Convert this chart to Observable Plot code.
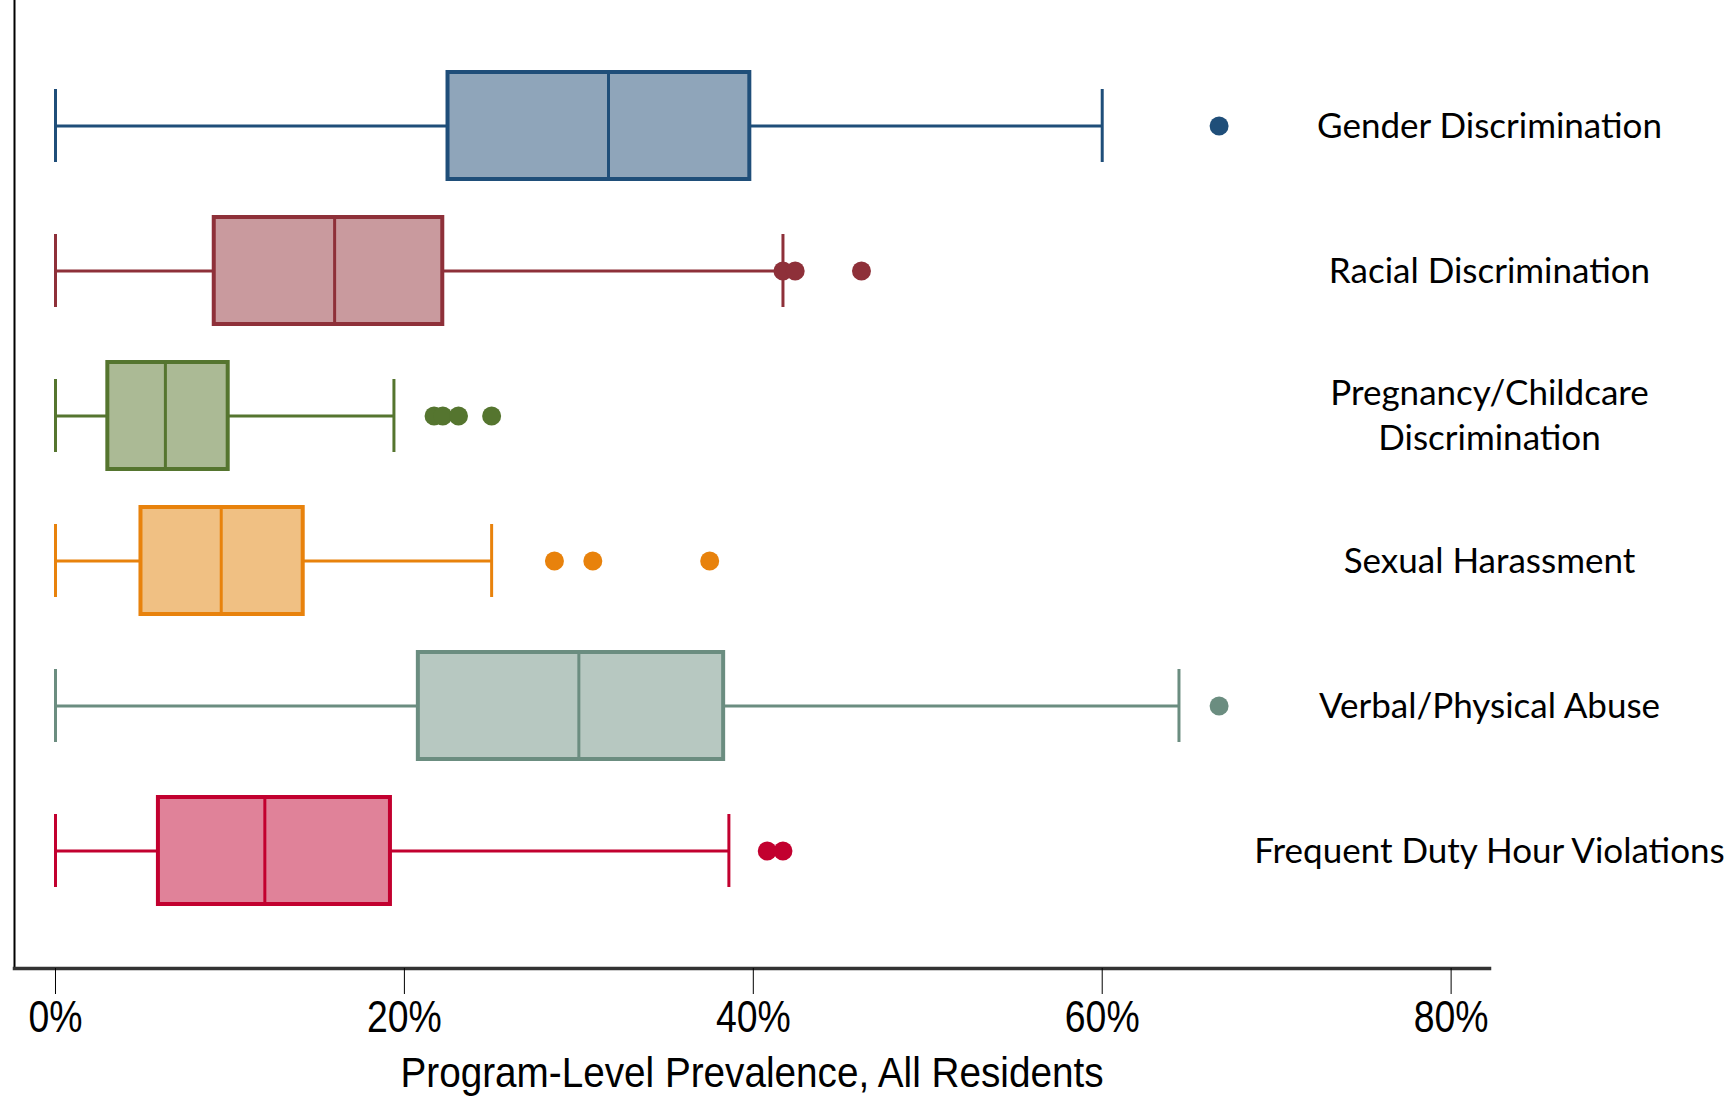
<!DOCTYPE html>
<html>
<head>
<meta charset="utf-8">
<script src="https://cdn.jsdelivr.net/npm/d3@7"></script>
<script src="https://cdn.jsdelivr.net/npm/@observablehq/plot@0.6"></script>
<style>
  html, body { margin: 0; padding: 0; background: #fff; }
  #chart svg { display: block; }
</style>
</head>
<body>
<div id="chart"></div>
<script>
const categories = [
  "Gender Discrimination",
  "Racial Discrimination",
  "Pregnancy/Childcare\nDiscrimination",
  "Sexual Harassment",
  "Verbal/Physical Abuse",
  "Frequent Duty Hour Violations"
];
const whiskerLow  = [0, 0, 0, 0, 0, 0];
const q1          = [22.5, 9.1, 3.0, 4.9, 20.8, 5.9];
const median      = [31.7, 16.0, 6.3, 9.5, 30.0, 12.0];
const q3          = [39.8, 22.2, 9.9, 14.2, 38.3, 19.2];
const whiskerHigh = [60.0, 41.7, 19.4, 25.0, 64.4, 38.6];
const outlierCategory = [0, 1, 1, 1, 2, 2, 2, 2, 3, 3, 3, 4, 5, 5];
const outlierValue    = [66.7, 41.7, 42.4, 46.2, 21.7, 22.2, 23.1, 25.0, 28.6, 30.8, 37.5, 66.7, 40.8, 41.7];
const strokeColors = ["#1f4e79", "#8e3039", "#55752f", "#e8820c", "#6b8d80", "#c2002f"];
const fillColors   = ["#8fa5ba", "#c99a9e", "#abba95", "#f0c083", "#b7c8c1", "#e08299"];
const xTicks = [0, 20, 40, 60, 80];
const xTitle = "Program-Level Prevalence, All Residents";

const boxes = categories.map((c, i) => ({
  cat: c, lo: whiskerLow[i], q1: q1[i], med: median[i], q3: q3[i], hi: whiskerHigh[i]
}));
const outliers = outlierValue.map((v, i) => ({cat: categories[outlierCategory[i]], v}));

const W = 1731, H = 1096;
const step = 145;
const yTop = 52.5;
const axisFont = "'Liberation Sans', Arial, sans-serif";

const chart = Plot.plot({
  width: W,
  height: H,
  marginLeft: 14,
  marginRight: 242,
  marginTop: 0,
  marginBottom: 128,
  style: {background: "#fff", overflow: "visible"},
  x: {domain: [-2.35, 82.2], range: [14, 1489]},
  y: {domain: categories, range: [yTop, yTop + step * categories.length], padding: 0, axis: null},
  color: {domain: categories, range: strokeColors},
  marks: [
    Plot.ruleY(boxes, {y: "cat", x1: "lo", x2: "q1", stroke: "cat", strokeWidth: 3}),
    Plot.ruleY(boxes, {y: "cat", x1: "q3", x2: "hi", stroke: "cat", strokeWidth: 3}),
    Plot.tickX(boxes, {y: "cat", x: "lo", stroke: "cat", strokeWidth: 3, insetTop: 36, insetBottom: 36}),
    Plot.tickX(boxes, {y: "cat", x: "hi", stroke: "cat", strokeWidth: 3, insetTop: 36, insetBottom: 36}),
    Plot.barX(boxes, {y: "cat", x1: "q1", x2: "q3", fill: (d, i) => fillColors[i], stroke: "cat", strokeWidth: 4, insetTop: 19, insetBottom: 19}),
    Plot.tickX(boxes, {y: "cat", x: "med", stroke: "cat", strokeWidth: 3, insetTop: 19, insetBottom: 19}),
    Plot.dot(outliers, {y: "cat", x: "v", fill: "cat", r: 9.5, stroke: "none"}),
    Plot.text(categories, {
      y: d => d, x: () => 82.2, text: d => d, dy: -3,
      fontSize: 35, fontFamily: "Lato, 'Open Sans', sans-serif", fill: "#000",
      textAnchor: "middle", lineHeight: 1.3
    }),
    Plot.frame({anchor: "left", stroke: "#000", strokeWidth: 2}),
    Plot.frame({anchor: "bottom", stroke: "#333", strokeWidth: 3.5}),
    Plot.axisX({
      ticks: xTicks, tickFormat: d => d + "%", tickSize: 26, tickPadding: 6,
      fontSize: 44, fontFamily: axisFont,
      stroke: "#000", color: "#000",
      label: null
    }),
    Plot.axisX({
      ticks: [], tickSize: 0,
      fontSize: 43, fontFamily: axisFont, color: "#000",
      label: xTitle, labelAnchor: "center", labelArrow: "none", labelOffset: 118
    })
  ]
});
// condense axis text horizontally (the reference uses a narrow face)
chart.querySelectorAll("g[aria-label='x-axis tick label'] text").forEach(n => {
  const t = n.getAttribute("transform") || "";
  n.setAttribute("transform", t + " scale(0.85,1)");
});
chart.querySelectorAll("g[aria-label='x-axis label'] text").forEach(n => {
  const t = n.getAttribute("transform") || "";
  n.setAttribute("transform", t + " scale(0.9,1)");
});
document.getElementById("chart").appendChild(chart);
</script>
</body>
</html>
